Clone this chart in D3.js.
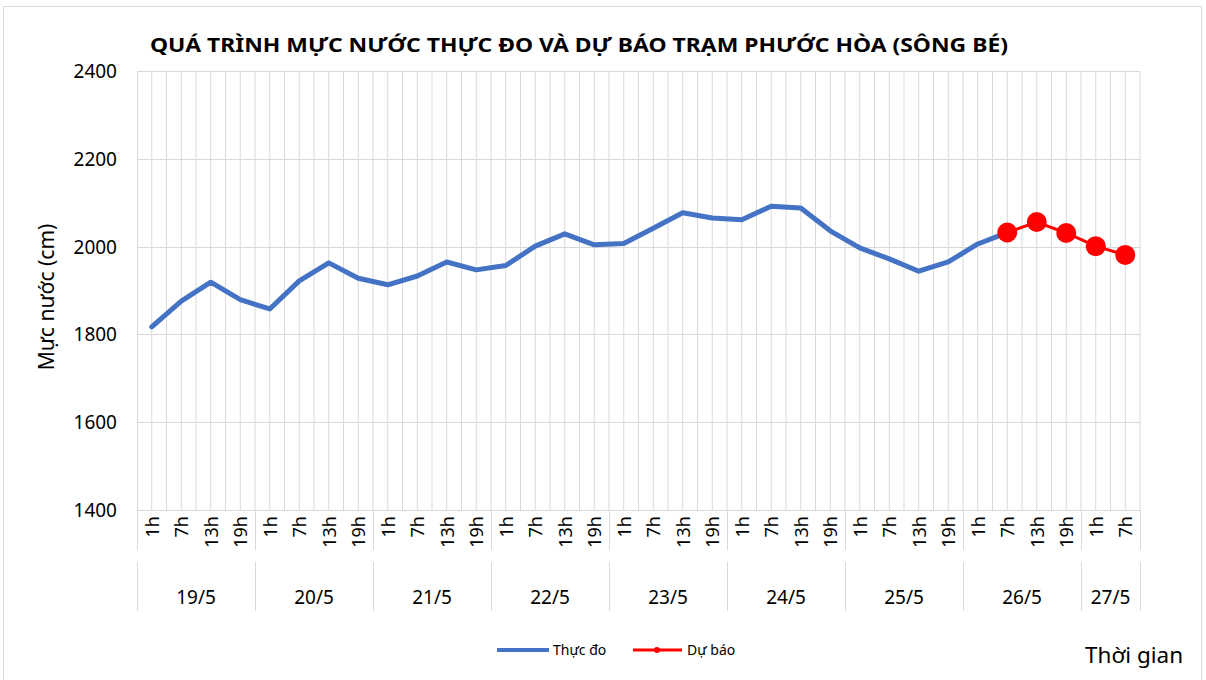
<!DOCTYPE html>
<html>
<head>
<meta charset="utf-8">
<script src="https://cdn.jsdelivr.net/npm/d3@7"></script>
<style>
  body { margin: 0; background: #fff; }
  svg { display: block; font-family: "Noto Sans", "Open Sans", sans-serif; }
</style>
</head>
<body>
<div id="chart"></div>
<script>
// categories: day groups and the hours in each
const days = ["19/5", "20/5", "21/5", "22/5", "23/5", "24/5", "25/5", "26/5", "27/5"];
const dayHours = [
  ["1h", "7h", "13h", "19h"], ["1h", "7h", "13h", "19h"], ["1h", "7h", "13h", "19h"],
  ["1h", "7h", "13h", "19h"], ["1h", "7h", "13h", "19h"], ["1h", "7h", "13h", "19h"],
  ["1h", "7h", "13h", "19h"], ["1h", "7h", "13h", "19h"], ["1h", "7h"]
];
// measured water level (cm), from 19/5 1h to 26/5 7h
const observed = [1817, 1876, 1919, 1879, 1858, 1922, 1963, 1928, 1913, 1933, 1965, 1947,
  1957, 2001, 2029, 2004, 2007, 2042, 2077, 2065, 2061, 2092, 2088, 2036,
  1997, 1972, 1944, 1965, 2006, 2032];
// forecast, from 26/5 7h to 27/5 7h
const forecast = [2032, 2056, 2031, 2001, 1981];
const forecastStart = 29;
const yTicks = [1400, 1600, 1800, 2000, 2200, 2400];

const width = 1206, height = 680;
const pLeft = 137, pRight = 1140, pTop = 71, pBottom = 510;

// flatten categories
const cats = [];
days.forEach((d, di) => dayHours[di].forEach(h => cats.push({ day: d, hour: h, di: di })));

const svg = d3.select("#chart").append("svg")
  .attr("width", width).attr("height", height);

svg.append("rect")
  .attr("x", 3.5).attr("y", 6.5).attr("width", 1198).attr("height", 690)
  .attr("fill", "none").attr("stroke", "#d9d9d9");

const x = d3.scaleBand().domain(d3.range(cats.length)).range([pLeft, pRight]).padding(0);
const y = d3.scaleLinear().domain([1400, 2400]).range([pBottom, pTop]);
const cx = i => x(i) + x.bandwidth() / 2;

// vertical gridlines at category centres and boundaries
const grid = svg.append("g").attr("stroke", "#d9d9d9").attr("stroke-width", 1);
d3.range(cats.length).forEach(i => {
  grid.append("line").attr("x1", cx(i)).attr("x2", cx(i)).attr("y1", pTop).attr("y2", pBottom);
  grid.append("line").attr("x1", x(i) + x.bandwidth()).attr("x2", x(i) + x.bandwidth())
    .attr("y1", pTop).attr("y2", pBottom);
});
grid.selectAll("line.h").data(yTicks).join("line")
  .attr("x1", pLeft).attr("x2", pRight)
  .attr("y1", d => Math.round(y(d)) + 0.5).attr("y2", d => Math.round(y(d)) + 0.5);
grid.append("line").attr("x1", pLeft + 0.5).attr("x2", pLeft + 0.5).attr("y1", pTop).attr("y2", pBottom);

// y axis labels
svg.append("g").selectAll("text").data(yTicks).join("text")
  .attr("x", 117).attr("y", d => y(d) + 7)
  .attr("text-anchor", "end").attr("font-size", 19).attr("fill", "#000")
  .text(d => d);

svg.append("text")
  .attr("transform", "translate(54,297) rotate(-90)")
  .attr("text-anchor", "middle").attr("font-size", 21).attr("fill", "#000")
  .text("Mực nước (cm)");

// x axis: hour labels
const xa = svg.append("g");
xa.selectAll("text").data(cats).join("text")
  .attr("transform", (d, i) => `translate(${cx(i) + 7},516) rotate(-90)`)
  .attr("text-anchor", "end").attr("font-size", 18).attr("fill", "#000")
  .text(d => d.hour);

// day group separators and labels
const bounds = [0];
let acc = 0;
dayHours.forEach(h => { acc += h.length; bounds.push(acc); });
bounds.forEach(b => {
  const bx = Math.round(b === cats.length ? pRight : x(b)) + 0.5;
  xa.append("line").attr("x1", bx).attr("x2", bx).attr("y1", pBottom).attr("y2", 550)
    .attr("stroke", "#d9d9d9");
  xa.append("line").attr("x1", bx).attr("x2", bx).attr("y1", 562).attr("y2", 611)
    .attr("stroke", "#d9d9d9");
});
days.forEach((d, di) => {
  const x0 = x(bounds[di]);
  const x1 = bounds[di + 1] === cats.length ? pRight : x(bounds[di + 1]);
  xa.append("text").attr("x", (x0 + x1) / 2).attr("y", 604)
    .attr("text-anchor", "middle").attr("font-size", 19).attr("fill", "#000").text(d);
});

// series
const line = d3.line().x(d => cx(d.i)).y(d => y(d.v));
const obsData = observed.map((v, i) => ({ i: i, v: v }));
const fcData = forecast.map((v, i) => ({ i: i + forecastStart, v: v }));

svg.append("path").datum(obsData)
  .attr("d", line).attr("fill", "none")
  .attr("stroke", "#4472C4").attr("stroke-width", 5)
  .attr("stroke-linejoin", "round").attr("stroke-linecap", "round");

svg.append("path").datum(fcData)
  .attr("d", line).attr("fill", "none")
  .attr("stroke", "#FF0000").attr("stroke-width", 3);
svg.append("g").selectAll("circle").data(fcData).join("circle")
  .attr("cx", d => cx(d.i)).attr("cy", d => y(d.v)).attr("r", 10)
  .attr("fill", "#FF0000");

// title
svg.append("text")
  .attr("x", 150).attr("y", 52)
  .attr("font-size", 19).attr("font-weight", "bold").attr("fill", "#000")
  .attr("textLength", 858).attr("lengthAdjust", "spacingAndGlyphs")
  .text("QUÁ TRÌNH MỰC NƯỚC THỰC ĐO VÀ DỰ BÁO TRẠM PHƯỚC HÒA (SÔNG BÉ)");

// legend
const lg = svg.append("g");
lg.append("line").attr("x1", 497).attr("x2", 549).attr("y1", 650).attr("y2", 650)
  .attr("stroke", "#4472C4").attr("stroke-width", 4);
lg.append("text").attr("x", 553).attr("y", 655).attr("font-size", 14).text("Thực đo");
lg.append("line").attr("x1", 633).attr("x2", 682).attr("y1", 650).attr("y2", 650)
  .attr("stroke", "#FF0000").attr("stroke-width", 3);
lg.append("circle").attr("cx", 657).attr("cy", 650).attr("r", 3).attr("fill", "#FF0000");
lg.append("text").attr("x", 687).attr("y", 655).attr("font-size", 14).text("Dự báo");

svg.append("text").attr("x", 1085).attr("y", 663)
  .attr("font-size", 22.5).attr("fill", "#000").text("Thời gian");
</script>
</body>
</html>
